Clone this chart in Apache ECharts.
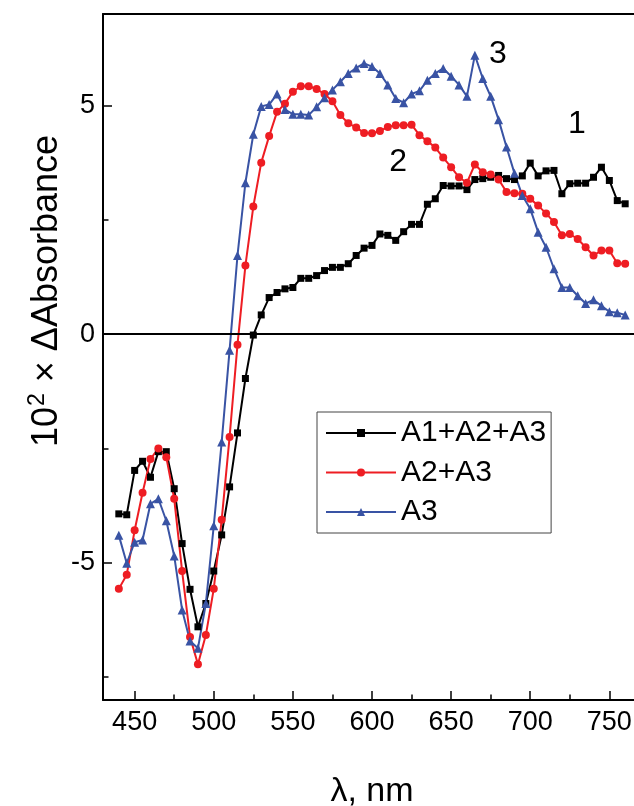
<!DOCTYPE html>
<html>
<head>
<meta charset="utf-8">
<script src="https://cdn.jsdelivr.net/npm/echarts@6/dist/echarts.min.js"></script>
<style>
  html, body { margin: 0; padding: 0; background: #fff; }
  #chart { width: 634px; height: 806px; }
</style>
</head>
<body>
<div id="chart"></div>
<script>
// wavelength grid, nm
const wavelengths = [];
for (let w = 440; w <= 760; w += 5) wavelengths.push(w);

// 10^2 x dAbsorbance
const sumA1A2A3 = [
  -3.93, -3.95, -2.98, -2.78, -3.13, -2.57, -2.57, -3.38, -4.58, -5.58,
  -6.40, -5.89, -5.18, -4.39, -3.34, -2.16, -0.97, -0.02, 0.42, 0.80,
  0.91, 0.99, 1.02, 1.22, 1.22, 1.28, 1.39, 1.46, 1.46, 1.54,
  1.72, 1.88, 1.94, 2.19, 2.16, 2.05, 2.24, 2.40, 2.40, 2.84,
  2.96, 3.25, 3.24, 3.24, 3.16, 3.38, 3.40, 3.43, 3.47, 3.40,
  3.38, 3.46, 3.74, 3.46, 3.57, 3.58, 3.07, 3.29, 3.30, 3.30,
  3.43, 3.65, 3.36, 2.92, 2.85
];
const sumA2A3 = [
  -5.57, -5.26, -4.29, -3.47, -2.73, -2.50, -2.69, -3.60, -5.18, -6.62,
  -7.22, -6.58, -5.57, -4.06, -2.25, -0.23, 1.50, 2.79, 3.75, 4.33,
  4.86, 5.04, 5.30, 5.42, 5.42, 5.36, 5.25, 5.09, 4.79, 4.61,
  4.52, 4.40, 4.39, 4.44, 4.53, 4.57, 4.57, 4.58, 4.35, 4.22,
  4.08, 3.86, 3.65, 3.43, 3.31, 3.71, 3.54, 3.49, 3.38, 3.11,
  3.08, 3.07, 2.96, 2.81, 2.64, 2.45, 2.16, 2.19, 2.08, 1.90,
  1.72, 1.83, 1.83, 1.55, 1.54
];
const onlyA3 = [
  -4.40, -5.01, -4.55, -4.50, -3.71, -3.60, -4.08, -4.85, -6.03, -6.71,
  -6.87, -5.89, -4.19, -2.36, -0.35, 1.72, 3.31, 4.37, 4.98, 5.02,
  5.25, 4.91, 4.81, 4.81, 4.79, 4.97, 5.17, 5.34, 5.52, 5.70,
  5.82, 5.92, 5.85, 5.70, 5.45, 5.15, 5.06, 5.25, 5.32, 5.55,
  5.70, 5.81, 5.64, 5.45, 5.20, 6.10, 5.59, 5.20, 4.69, 4.09,
  3.52, 3.03, 2.74, 2.23, 1.90, 1.43, 1.02, 1.02, 0.84, 0.67,
  0.75, 0.62, 0.49, 0.47, 0.42
];

// curve numbers placed in data units
const curveTags = [
  { name: "1", value: [729.5, 4.59] },
  { name: "2", value: [616.5, 3.76] },
  { name: "3", value: [679.5, 6.12] }
];

const xMajor = [450, 500, 550, 600, 650, 700, 750];
const xMinor = [475, 525, 575, 625, 675, 725];
const yMajor = [-5, 0, 5];
const yMinor = [-7.5, -2.5, 2.5];

const FONT = "Liberation Sans, Arial, sans-serif";
const pair = (ys) => wavelengths.map((w, i) => [w, ys[i]]);

function xAx(ticks, withLabels, len) {
  return {
    type: "value", min: 430, max: 770, position: "bottom",
    axisLine: { show: withLabels, onZero: false, lineStyle: { color: "#000", width: 2 } },
    axisTick: { show: true, inside: true, length: len, customValues: ticks, lineStyle: { color: "#000", width: 1.5 } },
    axisLabel: { show: withLabels, customValues: ticks, margin: 9, color: "#000", fontSize: 27, fontFamily: FONT },
    splitLine: { show: false }
  };
}
function yAx(ticks, withLabels, len) {
  return {
    type: "value", min: -8, max: 7, position: "left", alignTicks: false,
    axisLine: { show: withLabels, onZero: false, lineStyle: { color: "#000", width: 2 } },
    axisTick: { show: true, inside: true, length: len, customValues: ticks, lineStyle: { color: "#000", width: 1.5 } },
    axisLabel: { show: withLabels, customValues: ticks, margin: 8, color: "#000", fontSize: 27, fontFamily: FONT },
    splitLine: { show: false }
  };
}

const topFrame = {
  type: "value", min: 430, max: 770, position: "top",
  axisLine: { show: true, onZero: false, lineStyle: { color: "#000", width: 2 } },
  axisTick: { show: false }, axisLabel: { show: false }, splitLine: { show: false }
};

function lineSeries(name, ys, color, symbol, size) {
  return {
    name, type: "line", data: pair(ys), xAxisIndex: 0, yAxisIndex: 0,
    symbol, symbolSize: size, showSymbol: true,
    lineStyle: { color, width: 2 },
    itemStyle: { color, borderWidth: 0 },
    z: 3
  };
}

const chart = echarts.init(document.getElementById("chart"), null, { renderer: "canvas" });
const blackS = lineSeries("A1+A2+A3", sumA1A2A3, "#000000", "rect", 7);
blackS.markLine = {
  silent: true, symbol: "none", label: { show: false },
  lineStyle: { color: "#000", type: "solid", width: 2 },
  data: [{ yAxis: 0 }]
};

const xMain = xAx(xMajor, true, 9);
xMain.name = "λ, nm";
xMain.nameLocation = "middle";
xMain.nameGap = 75;
xMain.nameTextStyle = { color: "#000", fontSize: 34, fontFamily: FONT };

chart.setOption({
  animation: false,
  backgroundColor: "#fff",
  grid: { left: 103, top: 14, width: 538, height: 686, containLabel: false, outerBoundsMode: "none" },
  xAxis: [xMain, xAx(xMinor, false, 5.5), topFrame],
  yAxis: [yAx(yMajor, true, 9), yAx(yMinor, false, 5.5)],
  legend: {
    data: ["A1+A2+A3", "A2+A3", "A3"],
    orient: "vertical", left: 317, top: 412,
    padding: [6, 5, 6, 8], itemGap: 9.5, itemWidth: 70, itemHeight: 10,
    borderColor: "#444", borderWidth: 1,
    textStyle: { color: "#000", fontSize: 30, fontFamily: FONT, lineHeight: 28 }
  },
  graphic: [{
    type: "text", x: 46, y: 291, rotation: Math.PI / 2,
    style: {
      text: "{b|10}{s|2}{b| × ΔAbsorbance}",
      align: "center", verticalAlign: "middle",
      rich: {
        b: { fontSize: 36, fontFamily: FONT, fill: "#000", verticalAlign: "bottom" },
        s: { fontSize: 23, fontFamily: FONT, fill: "#000", verticalAlign: "bottom", padding: [0, 1, 16, 1] }
      }
    }
  }],
  series: [
    blackS,
    lineSeries("A2+A3", sumA2A3, "#ee1d23", "circle", 8),
    lineSeries("A3", onlyA3, "#3953a4", "triangle", 9),
    {
      name: "tags", type: "scatter", data: curveTags, symbolSize: 0,
      itemStyle: { opacity: 1 },
      label: { show: true, position: "inside", formatter: (p) => p.name, color: "#000", opacity: 1, fontSize: 32, fontFamily: FONT },
      silent: true
    }
  ]
});
</script>
</body>
</html>
